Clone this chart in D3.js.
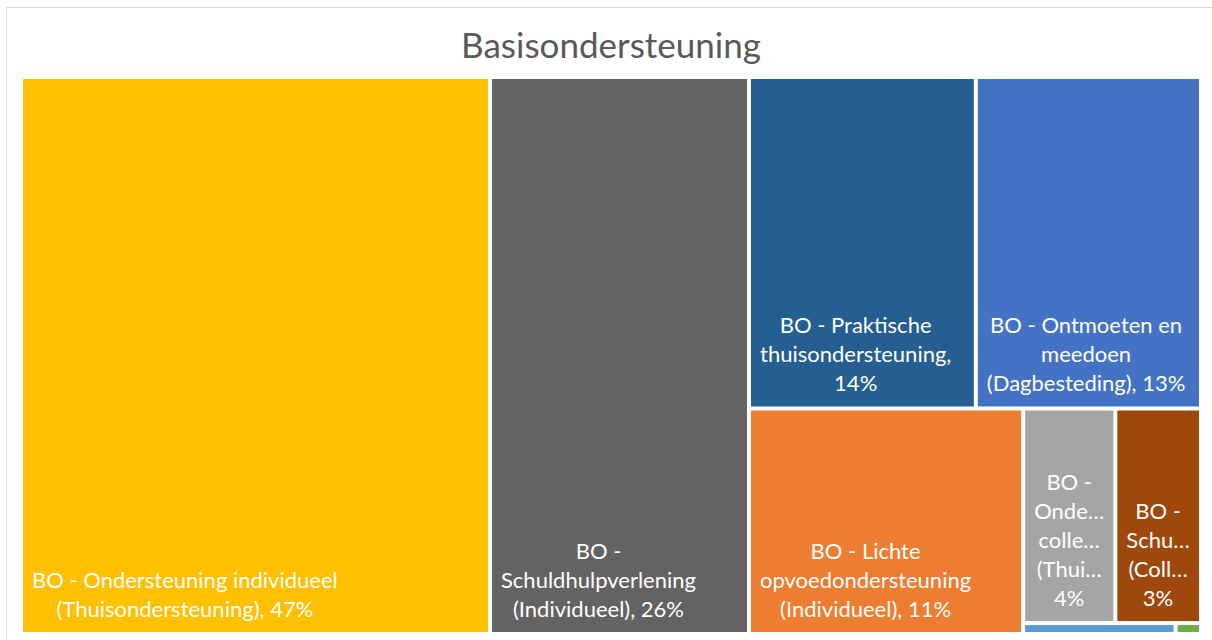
<!DOCTYPE html>
<html>
<head>
<meta charset="utf-8">
<script src="https://cdn.jsdelivr.net/npm/d3@7"></script>
<style>
  body { margin: 0; background: #fff; }
  text { font-family: Lato, "Open Sans", sans-serif; }
</style>
</head>
<body>
<script>
// data: one tile per category, values in percent
const names = [
    "BO - Ondersteuning individueel (Thuisondersteuning)",
    "BO - Schuldhulpverlening (Individueel)",
    "BO - Praktische thuisondersteuning",
    "BO - Ontmoeten en meedoen (Dagbesteding)",
    "BO - Lichte opvoedondersteuning (Individueel)",
    "BO - Ondersteuning collectief (Thuisondersteuning)",
    "BO - Schuldhulpverlening (Collectief)",
    "BO - Overig (Individueel)",
    "BO - Overig (Collectief)"
];
const values = [46.9, 25.9, 13.5, 13.4, 11.1, 3.55, 3.3, 0.3, 0.05];
const colors = ["#FFC000", "#636363", "#255E91", "#4472C4", "#ED7D31", "#A5A5A5", "#9E480E", "#5B9BD5", "#70AD47"];
const title = "Basisondersteuning";

// how many tiles Excel puts in each strip
const stripSizes = [1, 1, 2, 1, 2, 2];

const width = 1212, height = 640;
const plot = {x: 23, y: 79, w: 1176, h: 553};
const labelSize = 22;

let svg = d3.select("body").append("svg")
    .attr("width", width)
    .attr("height", height);

// chart frame
svg.append("rect")
    .attr("x", 6.5)
    .attr("y", 7.5)
    .attr("width", 1209)
    .attr("height", 640)
    .attr("fill", "#fff")
    .attr("stroke", "#d9d9d9");

svg.append("text")
    .attr("x", 611)
    .attr("y", 58)
    .attr("text-anchor", "middle")
    .attr("font-size", 35)
    .attr("fill", "#595959")
    .text(title);

function stripTile(parent, x0, y0, x1, y1) {
    let nodes = parent.children, i = 0, k = 0, total = parent.value;
    while (i < nodes.length) {
        let n = stripSizes[k++] || nodes.length - i;
        let row = nodes.slice(i, i + n);
        let rv = d3.sum(row, d => d.value);
        let part = {children: row, value: rv};
        let dx = x1 - x0, dy = y1 - y0;
        if (i + n >= nodes.length) {
            // last strip fills what is left, laid along the long side
            if (dx >= dy) d3.treemapDice(part, x0, y0, x1, y1);
            else d3.treemapSlice(part, x0, y0, x1, y1);
        } else if (dx >= dy) {
            let x = x0 + dx * rv / total;
            d3.treemapSlice(part, x0, y0, x, y1);
            x0 = x;
        } else {
            let y = y0 + dy * rv / total;
            d3.treemapDice(part, x0, y0, x1, y);
            y0 = y;
        }
        total -= rv;
        i += n;
    }
}

let root = d3.hierarchy({children: names.map((n, i) => ({name: n, value: values[i], color: colors[i]}))})
    .sum(d => d.value || 0);

d3.treemap()
    .size([plot.w, plot.h])
    .paddingInner(4)
    .tile(stripTile)(root);

let g = svg.append("g")
    .attr("transform", "translate(" + plot.x + "," + plot.y + ")");

let leaf = g.selectAll(".leaf")
    .data(root.leaves())
    .enter().append("g")
    .attr("class", "leaf");

leaf.append("rect")
    .attr("x", d => d.x0)
    .attr("y", d => d.y0)
    .attr("width", d => d.x1 - d.x0)
    .attr("height", d => d.y1 - d.y0)
    .attr("fill", d => d.data.color);

// measuring text for wrapping
let measure = svg.append("text")
    .attr("font-size", labelSize)
    .attr("visibility", "hidden");

function textWidth(s) {
    measure.text(s);
    return measure.node().getComputedTextLength();
}

function fitWord(w, maxW) {
    if (textWidth(w) <= maxW) return w;
    let s = w;
    while (s.length > 1 && textWidth(s + "…") > maxW) s = s.slice(0, -1);
    return s + "…";
}

function wrap(label, maxW) {
    let words = label.split(" "), lines = [], line = "";
    words.forEach(w => {
        let test = line ? line + " " + w : w;
        if (textWidth(test) <= maxW) {
            line = test;
        } else {
            if (line) lines.push(line);
            line = fitWord(w, maxW);
        }
    });
    if (line) lines.push(line);
    return lines;
}

const pad = 9, lineHeight = 29;

leaf.each(function (d) {
    let w = d.x1 - d.x0, h = d.y1 - d.y0;
    if (h < 30 || w < 30) return;
    let lines = wrap(d.data.name + ", " + Math.round(d.data.value) + "%", w - 2 * pad);
    let block = d3.max(lines, textWidth);
    let cx = d.x0 + pad + block / 2;
    let txt = d3.select(this).append("text")
        .attr("font-size", labelSize)
        .attr("fill", "#fff")
        .attr("text-anchor", "middle");
    lines.forEach((l, i) => {
        txt.append("tspan")
            .attr("x", cx)
            .attr("y", d.y1 - 15 - (lines.length - 1 - i) * lineHeight)
            .text(l);
    });
});

measure.remove();
</script>
</body>
</html>
